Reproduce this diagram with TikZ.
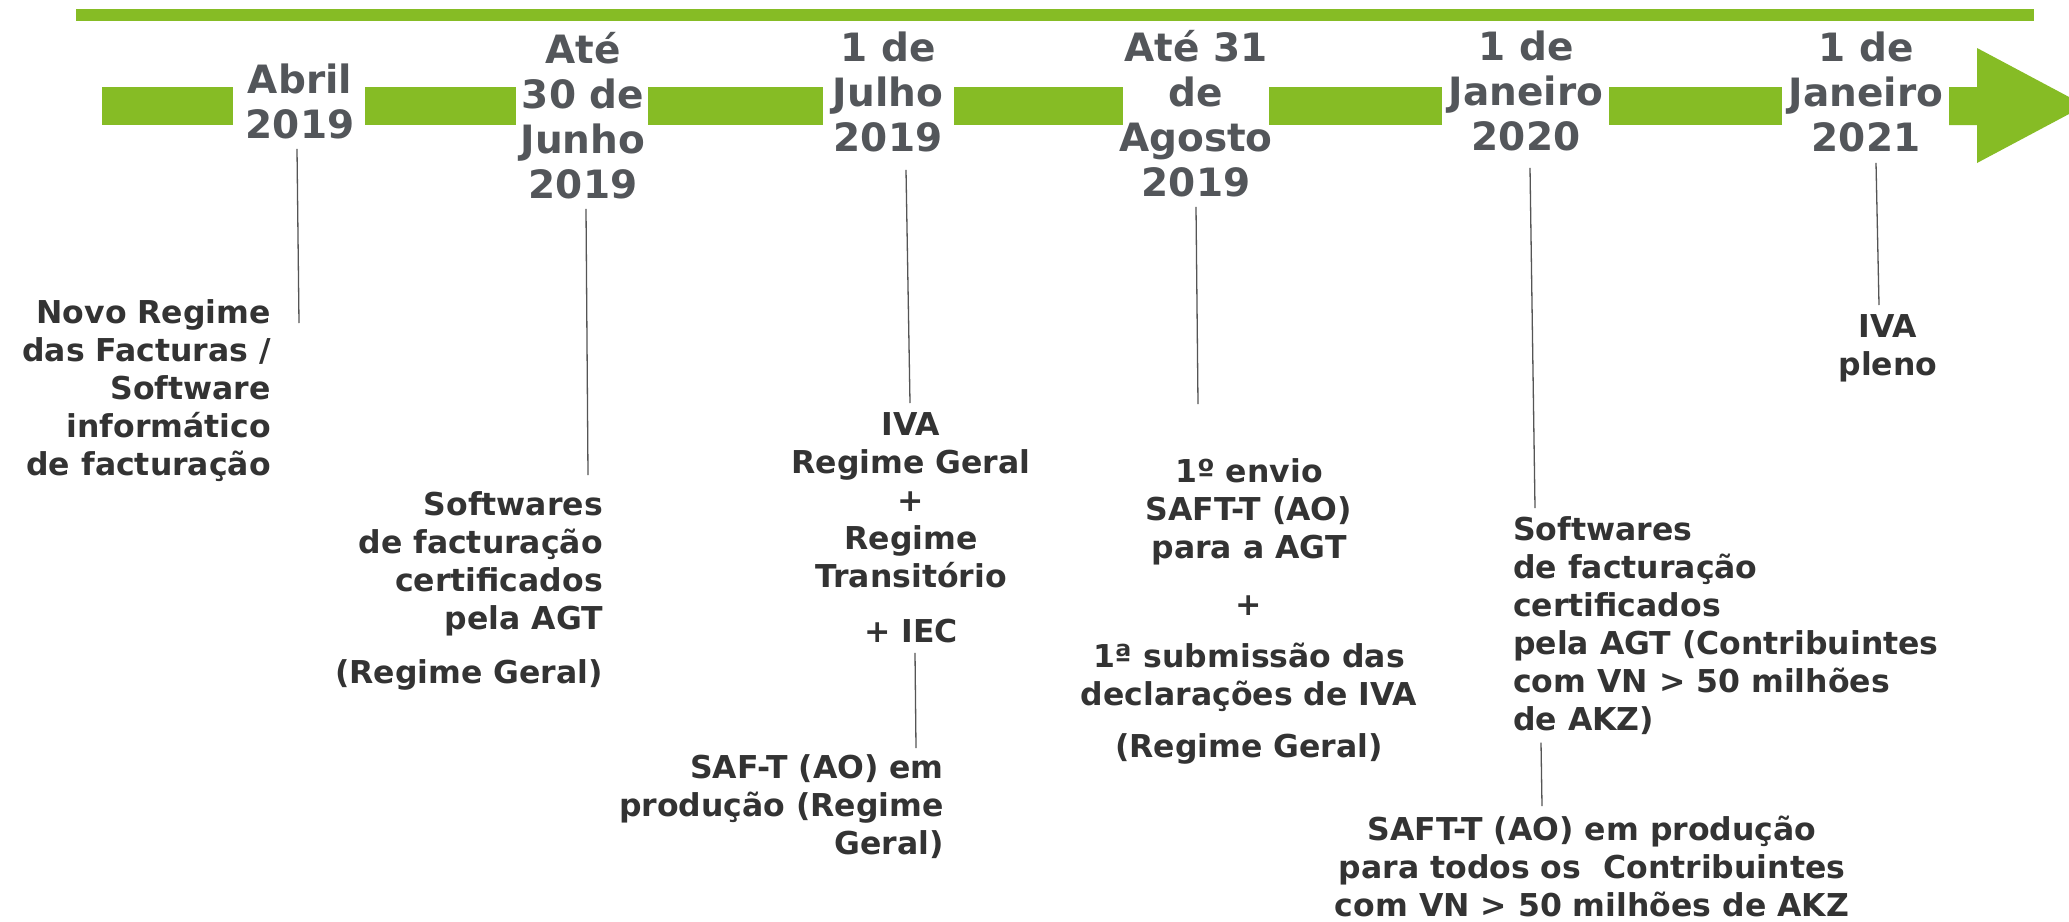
\documentclass[tikz,border=0pt]{standalone}
\usepackage{fontspec}
\setmainfont{DejaVu Sans}
\usetikzlibrary{calc}
\definecolor{tlgreen}{HTML}{86BC25}
\definecolor{dategray}{HTML}{53565A}
\definecolor{desctext}{HTML}{333333}
\definecolor{linegray}{HTML}{555555}
\begin{document}
\begin{tikzpicture}[x=1pt,y=-1pt,
  datelbl/.style={font=\fontsize{39}{45}\selectfont\bfseries, text=dategray, align=center, inner sep=0pt, anchor=north},
  desc/.style={font=\fontsize{31.5}{38}\selectfont\bfseries, text=desctext, inner sep=0pt},
  bar/.style={fill=tlgreen, draw=none},
  conn/.style={draw=linegray, line width=1.3pt}]
\useasboundingbox (0,0) rectangle (2069,921);
\clip (0,0) rectangle (2069,921);
\fill[white] (0,0) rectangle (2069,921);
% top line
\fill[bar] (76,9) rectangle (2034,21);
% timeline segments
\fill[bar] (102,87) rectangle (233,125);
\fill[bar] (365,87) rectangle (516,125);
\fill[bar] (648,87) rectangle (823,125);
\fill[bar] (954,87) rectangle (1123,125);
\fill[bar] (1269,87) rectangle (1442,125);
\fill[bar] (1609,87) rectangle (1782,125);
\fill[bar] (1949,87) -- (1977,87) -- (1977,48) -- (2085,105.5) -- (1977,163) -- (1977,125) -- (1949,125) -- cycle;
% dates
\node[datelbl] (dAbril) at (300,61.5) {\strut Abril\\2019};
\node[datelbl] (dJunho) at (583,31.5) {\strut Até\\30 de\\Junho\\2019};
\node[datelbl] (dJulho) at (888,29.5) {\strut 1 de\\Julho\\2019};
\node[datelbl] (dAgosto) at (1196,29.5) {\strut Até 31\\de\\Agosto\\2019};
\node[datelbl] (dJan20) at (1526,28.5) {\strut 1 de\\Janeiro\\2020};
\node[datelbl] (dJan21) at (1866,29.5) {\strut 1 de\\Janeiro\\2021};
% descriptions
\node[desc, align=right, anchor=north east] (tNovo) at (271,296.4) {\strut Novo Regime\\das Facturas /\\Software\\informático\\de facturação};
\node[desc, align=right, anchor=north east] (tJunho) at (603,488.4) {\strut Softwares\\de facturação\\certificados\\pela AGT\\[16pt](Regime Geral)};
\node[desc, align=center, anchor=north] (tJulho) at (911,408.4) {\strut IVA\\Regime Geral\\+\\Regime\\Transitório\\[17pt]+ IEC};
\node[desc, align=right, anchor=north east] (tSaf) at (944,751.4) {\strut SAF-T (AO) em\\produção (Regime\\Geral)};
\node[desc, align=center, anchor=north] (tAgosto) at (1249,455.4) {\strut 1º envio\\SAFT-T (AO)\\para a AGT\\[19pt]+\\[14pt]1ª submissão das\\declarações de IVA\\[14pt](Regime Geral)};
\node[desc, align=left, anchor=north west] (tJan20) at (1513,513.4) {\strut Softwares\\de facturação\\certificados\\pela AGT (Contribuintes\\com VN > 50 milhões\\de AKZ)};
\node[desc, align=center, anchor=north] (tSaft2) at (1592,813.4) {\strut SAFT-T (AO) em produção\\para todos os~ Contribuintes\\com VN > 50 milhões de AKZ};
\node[desc, align=center, anchor=north] (tIva) at (1888,310.4) {\strut IVA\\pleno};
% connector end points
\coordinate (eAbril) at (299,323);
\coordinate (eJunho) at (588,475);
\coordinate (eJulho) at (910,403);
\coordinate (eSaf) at (916,748);
\coordinate (eAgosto) at (1198,404);
\coordinate (eJan20) at (1535,508);
\coordinate (eSaft2) at (1542,806);
\coordinate (eIva) at (1879,305);
% connectors
\draw[conn] ($(dAbril.south)+(-3,10)$) -- (eAbril);
\draw[conn] ($(dJunho.south)+(3,10)$) -- (eJunho);
\draw[conn] ($(dJulho.south)+(18,18)$) -- (eJulho);
\draw[conn] ($(tJulho.south)+(4,10)$) -- (eSaf);
\draw[conn] ($(dAgosto.south)+(0,10)$) -- (eAgosto);
\draw[conn] ($(dJan20.south)+(4,17)$) -- (eJan20);
\draw[conn] ($(tJan20.south west)+(28,8)$) -- (eSaft2);
\draw[conn] ($(dJan21.south)+(10,11)$) -- (eIva);
\end{tikzpicture}
\end{document}
